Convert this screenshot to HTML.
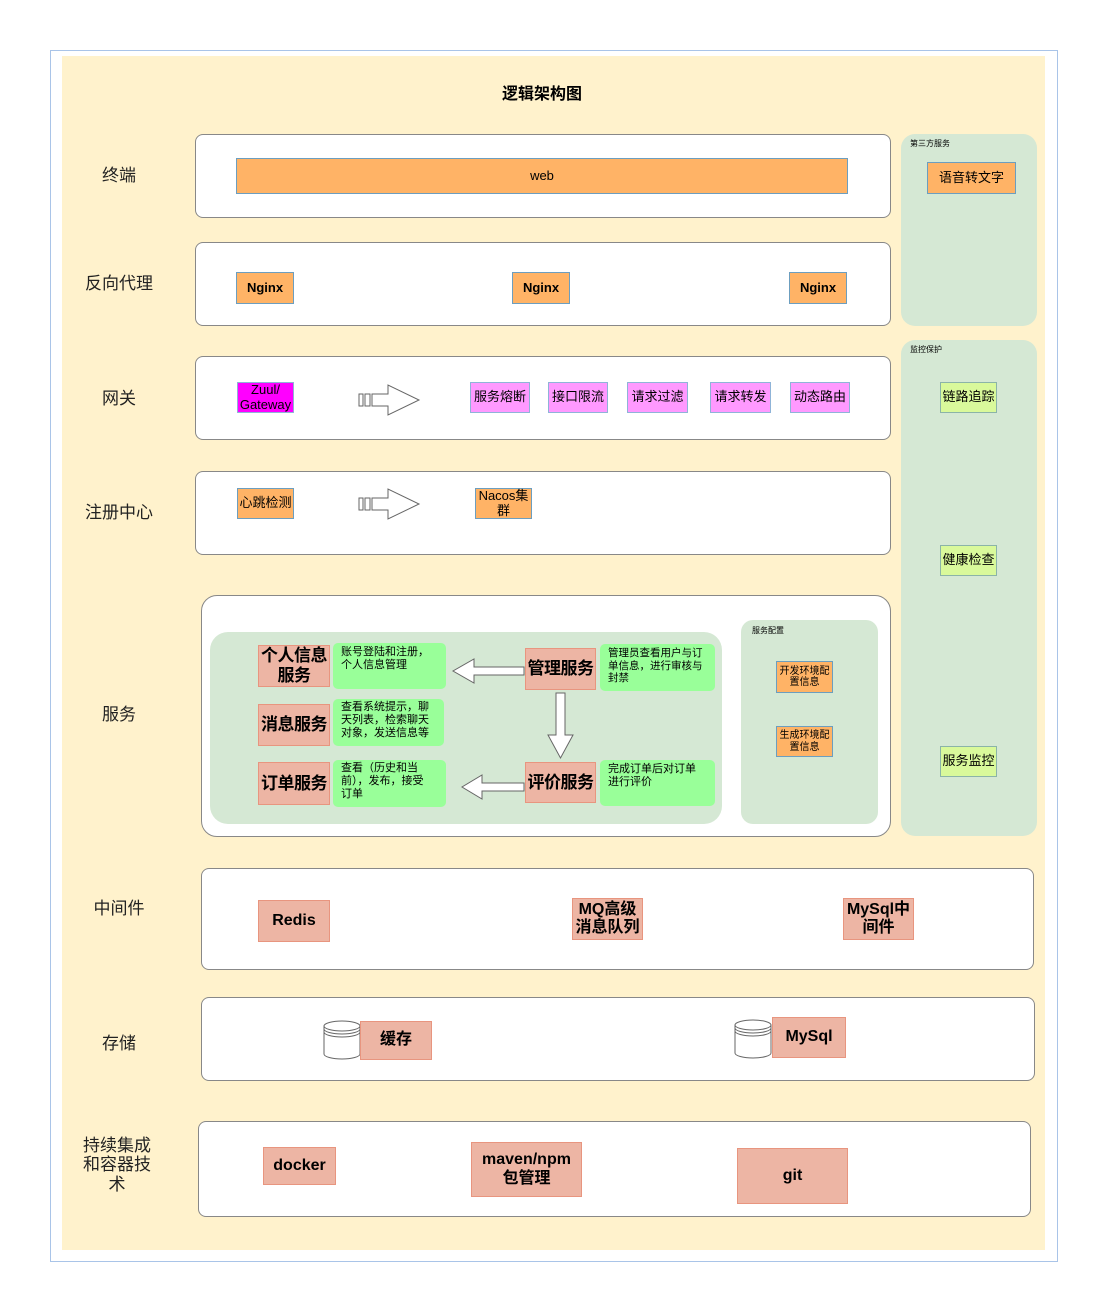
<!DOCTYPE html>
<html><head><meta charset="utf-8">
<style>
*{margin:0;padding:0;box-sizing:border-box}
body{width:1108px;height:1312px;background:#fff;position:relative;font-family:"Liberation Sans","Noto Sans CJK SC",sans-serif;color:#000;overflow:hidden}
div{position:absolute}
.c{display:flex;align-items:center;justify-content:center;text-align:center;line-height:1.15;white-space:nowrap}
.row{background:#fff;border:1px solid #888;border-radius:8px}
.lbl{font-size:17px;color:#222;width:110px;left:64px}
.or{background:#ffb366;border:1px solid #6c9ebf;font-size:13px}
.pk{background:#ff99ff;border:1px solid #8fb4d8;font-size:13px}
.gr{background:#d9f99b;border:1px solid #8bb4a8;font-size:13px}
.rd{background:#edb5a4;border:1px solid #e8957f;font-size:16px;font-weight:bold}
.lg{background:#99ff99;border-radius:5px;font-size:11px;text-align:left;padding:3px 8px;line-height:1.2;display:block;white-space:nowrap;overflow:hidden}
.sv{background:#edb5a4;border:1px solid #e8957f;font-size:17px;font-weight:bold;letter-spacing:-0.5px}
</style></head><body>
<div style="left:50px;top:50px;width:1008px;height:1212px;border:1px solid #a9c4e8"></div>
<div style="left:62px;top:56px;width:983px;height:1194px;background:#fff2cc"></div>
<div class="c" style="left:440px;top:82px;width:204px;height:26px;font-size:16px;font-weight:bold">逻辑架构图</div>

<div style="left:901px;top:134px;width:136px;height:192px;background:#d5e8d4;border-radius:14px"></div>
<div style="left:910px;top:138px;font-size:8px">第三方服务</div>
<div class="c or" style="left:927px;top:162px;width:89px;height:32px">语音转文字</div>
<div style="left:901px;top:340px;width:136px;height:496px;background:#d5e8d4;border-radius:14px"></div>
<div style="left:910px;top:344px;font-size:8px">监控保护</div>
<div class="c gr" style="left:940px;top:382px;width:57px;height:31px">链路追踪</div>
<div class="c gr" style="left:940px;top:545px;width:57px;height:31px">健康检查</div>
<div class="c gr" style="left:940px;top:746px;width:57px;height:31px">服务监控</div>

<div class="c lbl" style="top:162px;height:28px">终端</div>
<div class="c lbl" style="top:270px;height:28px">反向代理</div>
<div class="c lbl" style="top:385px;height:28px">网关</div>
<div class="c lbl" style="top:499px;height:28px">注册中心</div>
<div class="c lbl" style="top:701px;height:28px">服务</div>
<div class="c lbl" style="top:895px;height:28px">中间件</div>
<div class="c lbl" style="top:1030px;height:28px">存储</div>
<div class="c lbl" style="top:1135px;height:60px;left:62px">持续集成<br>和容器技<br>术</div>

<div class="row" style="left:195px;top:134px;width:696px;height:84px"></div>
<div class="c or" style="left:236px;top:158px;width:612px;height:36px">web</div>
<div class="row" style="left:195px;top:242px;width:696px;height:84px"></div>
<div class="c or" style="left:236px;top:272px;width:58px;height:32px;font-weight:bold">Nginx</div>
<div class="c or" style="left:512px;top:272px;width:58px;height:32px;font-weight:bold">Nginx</div>
<div class="c or" style="left:789px;top:272px;width:58px;height:32px;font-weight:bold">Nginx</div>
<div class="row" style="left:195px;top:356px;width:696px;height:84px"></div>
<div class="c" style="left:237px;top:382px;width:57px;height:31px;background:#ff00ff;border:1px solid #8fb4d8;font-size:13px">Zuul/<br>Gateway</div>
<svg style="position:absolute;left:356px;top:382px" width="68" height="36"><path d="M3 12h4v12h-4z M9 12h5v12h-5z M16 12h16v-9l31 15-31 15v-9h-16z" fill="#fff" stroke="#666"/></svg>
<div class="c pk" style="left:470px;top:382px;width:60px;height:31px">服务熔断</div>
<div class="c pk" style="left:548px;top:382px;width:60px;height:31px">接口限流</div>
<div class="c pk" style="left:627px;top:382px;width:61px;height:31px">请求过滤</div>
<div class="c pk" style="left:710px;top:382px;width:61px;height:31px">请求转发</div>
<div class="c pk" style="left:790px;top:382px;width:60px;height:31px">动态路由</div>
<div class="row" style="left:195px;top:471px;width:696px;height:84px"></div>
<div class="c or" style="left:237px;top:488px;width:57px;height:31px">心跳检测</div>
<svg style="position:absolute;left:356px;top:486px" width="68" height="36"><path d="M3 12h4v12h-4z M9 12h5v12h-5z M16 12h16v-9l31 15-31 15v-9h-16z" fill="#fff" stroke="#666"/></svg>
<div class="c or" style="left:475px;top:488px;width:57px;height:31px">Nacos集<br>群</div>

<div class="row" style="left:201px;top:595px;width:690px;height:242px;border-radius:16px"></div>
<div style="left:210px;top:632px;width:512px;height:192px;background:#d5e8d4;border-radius:18px"></div>
<div style="left:741px;top:620px;width:137px;height:204px;background:#d5e8d4;border-radius:12px"></div>
<div style="left:752px;top:625px;font-size:8px">服务配置</div>
<div class="c or" style="left:776px;top:661px;width:57px;height:32px;font-size:10px">开发环境配<br>置信息</div>
<div class="c or" style="left:776px;top:726px;width:57px;height:31px;font-size:10px">生成环境配<br>置信息</div>

<div class="c sv" style="left:258px;top:645px;width:72px;height:42px">个人信息<br>服务</div>
<div class="lg" style="left:333px;top:643px;width:113px;height:46px">账号登陆和注册，<br>个人信息管理</div>
<div class="c sv" style="left:258px;top:704px;width:72px;height:42px">消息服务</div>
<div class="lg" style="left:333px;top:699px;width:111px;height:47px;padding-top:2px">查看系统提示，聊<br>天列表，检索聊天<br>对象，发送信息等</div>
<div class="c sv" style="left:258px;top:762px;width:72px;height:43px">订单服务</div>
<div class="lg" style="left:333px;top:760px;width:113px;height:47px;padding-top:2px">查看（历史和当<br>前），发布，接受<br>订单</div>
<div class="c sv" style="left:525px;top:648px;width:71px;height:42px">管理服务</div>
<div class="lg" style="left:600px;top:644px;width:115px;height:47px;font-size:10.5px">管理员查看用户与订<br>单信息，进行审核与<br>封禁</div>
<div class="c sv" style="left:525px;top:762px;width:71px;height:41px">评价服务</div>
<div class="lg" style="left:600px;top:760px;width:115px;height:46px;font-size:11px">完成订单后对订单<br>进行评价</div>
<svg style="position:absolute;left:450px;top:655px" width="78" height="150"><path d="M74 12h-50v-8l-21 12 21 12v-8h50z" fill="#fff" stroke="#666"/><path d="M74 128h-42v-8l-20 12 20 12v-8h42z" fill="#fff" stroke="#666"/></svg>
<svg style="position:absolute;left:545px;top:690px" width="32" height="72"><path d="M11 3h9v42h8l-12.5 23-12.5-23h8z" fill="#fff" stroke="#666"/></svg>

<div class="row" style="left:201px;top:868px;width:833px;height:102px"></div>
<div class="c rd" style="left:258px;top:900px;width:72px;height:42px">Redis</div>
<div class="c rd" style="left:572px;top:898px;width:71px;height:42px">MQ高级<br>消息队列</div>
<div class="c rd" style="left:843px;top:898px;width:71px;height:42px">MySql中<br>间件</div>
<div class="row" style="left:201px;top:997px;width:834px;height:84px"></div>
<svg style="position:absolute;left:322px;top:1020px" width="40" height="40"><path d="M2 6a18 5 0 0 1 36 0v28a18 5 0 0 1-36 0z" fill="#fff" stroke="#666"/><path d="M2 6a18 5 0 0 0 36 0M2 9a18 5 0 0 0 36 0M2 12a18 5 0 0 0 36 0" fill="none" stroke="#666"/></svg>
<div class="c rd" style="left:360px;top:1021px;width:72px;height:39px">缓存</div>
<svg style="position:absolute;left:733px;top:1019px" width="40" height="40"><path d="M2 6a18 5 0 0 1 36 0v28a18 5 0 0 1-36 0z" fill="#fff" stroke="#666"/><path d="M2 6a18 5 0 0 0 36 0M2 9a18 5 0 0 0 36 0M2 12a18 5 0 0 0 36 0" fill="none" stroke="#666"/></svg>
<div class="c rd" style="left:772px;top:1017px;width:74px;height:41px">MySql</div>
<div class="row" style="left:198px;top:1121px;width:833px;height:96px"></div>
<div class="c rd" style="left:263px;top:1147px;width:73px;height:38px">docker</div>
<div class="c rd" style="left:471px;top:1142px;width:111px;height:55px">maven/npm<br>包管理</div>
<div class="c rd" style="left:737px;top:1148px;width:111px;height:56px">git</div>
</body></html>
